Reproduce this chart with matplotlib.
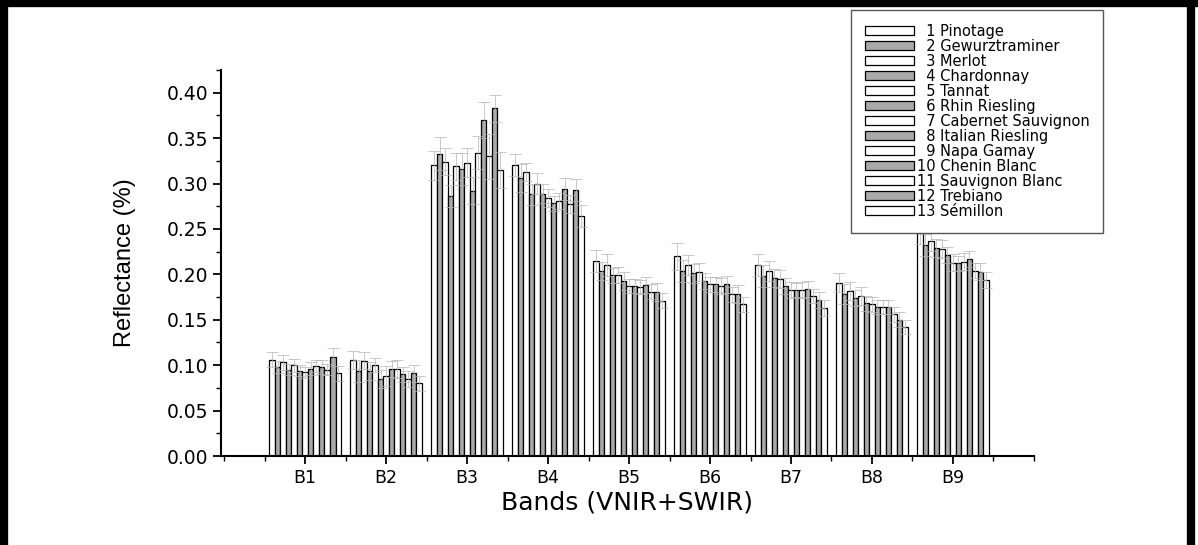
import numpy as np
import matplotlib
matplotlib.use("Agg")
import matplotlib.pyplot as plt
from matplotlib.lines import Line2D
from matplotlib.patches import Patch
from matplotlib.ticker import MultipleLocator, FormatStrFormatter

plt.rcParams['font.family'] = ['DejaVu Sans']

bands = ['B1', 'B2', 'B3', 'B4', 'B5', 'B6', 'B7', 'B8', 'B9']
varieties = ['1 Pinotage', '2 Gewurztraminer', '3 Merlot', '4 Chardonnay', '5 Tannat',
             '6 Rhin Riesling', '7 Cabernet Sauvignon', '8 Italian Riesling', '9 Napa Gamay',
             '10 Chenin Blanc', '11 Sauvignon Blanc', '12 Trebiano', '13 Sémillon']

# reflectance per band (rows) and variety (columns)
refl = np.array([
    [0.106, 0.098, 0.103, 0.095, 0.100, 0.094, 0.092, 0.096, 0.099, 0.098, 0.095, 0.109, 0.091],
    [0.106, 0.094, 0.105, 0.094, 0.100, 0.085, 0.088, 0.096, 0.096, 0.090, 0.085, 0.091, 0.080],
    [0.320, 0.333, 0.324, 0.286, 0.319, 0.316, 0.323, 0.292, 0.334, 0.370, 0.330, 0.383, 0.315],
    [0.320, 0.306, 0.313, 0.288, 0.300, 0.289, 0.284, 0.278, 0.281, 0.294, 0.277, 0.293, 0.264],
    [0.215, 0.204, 0.210, 0.199, 0.199, 0.193, 0.187, 0.187, 0.186, 0.188, 0.181, 0.181, 0.171],
    [0.220, 0.204, 0.210, 0.201, 0.203, 0.193, 0.189, 0.189, 0.187, 0.189, 0.178, 0.178, 0.167],
    [0.210, 0.198, 0.204, 0.196, 0.195, 0.187, 0.183, 0.183, 0.183, 0.184, 0.176, 0.172, 0.163],
    [0.191, 0.178, 0.182, 0.174, 0.176, 0.168, 0.167, 0.164, 0.164, 0.164, 0.156, 0.150, 0.142],
    [0.248, 0.232, 0.237, 0.229, 0.228, 0.221, 0.213, 0.212, 0.214, 0.217, 0.204, 0.203, 0.194],
])

# standard deviations (error bars)
err = np.array([
    [0.008, 0.007, 0.008, 0.006, 0.007, 0.006, 0.006, 0.007, 0.007, 0.008, 0.006, 0.010, 0.008],
    [0.010, 0.012, 0.009, 0.010, 0.008, 0.010, 0.011, 0.009, 0.010, 0.008, 0.009, 0.009, 0.008],
    [0.016, 0.018, 0.015, 0.012, 0.015, 0.018, 0.016, 0.015, 0.018, 0.020, 0.025, 0.015, 0.020],
    [0.012, 0.015, 0.010, 0.012, 0.012, 0.010, 0.010, 0.008, 0.009, 0.012, 0.010, 0.012, 0.012],
    [0.012, 0.010, 0.012, 0.008, 0.009, 0.010, 0.008, 0.008, 0.008, 0.009, 0.008, 0.010, 0.008],
    [0.015, 0.012, 0.011, 0.010, 0.010, 0.009, 0.008, 0.008, 0.009, 0.009, 0.008, 0.010, 0.008],
    [0.012, 0.012, 0.011, 0.010, 0.010, 0.009, 0.009, 0.008, 0.009, 0.009, 0.008, 0.009, 0.009],
    [0.010, 0.011, 0.010, 0.009, 0.010, 0.008, 0.008, 0.008, 0.008, 0.008, 0.008, 0.008, 0.008],
    [0.015, 0.012, 0.011, 0.010, 0.010, 0.009, 0.009, 0.008, 0.009, 0.009, 0.008, 0.009, 0.009],
])

fig = plt.figure(figsize=(11.98, 5.45), dpi=100)
ax = fig.add_axes([0.1845, 0.1633, 0.6785, 0.7083])

x = np.arange(1, len(bands) + 1)
n = len(varieties)
w = 0.068
for j in range(n):
    pos = x + (j - (n - 1) / 2) * w
    fc = 'white' if j % 2 == 0 else '#a9a9a9'
    ax.bar(pos, refl[:, j], width=w, color=fc, edgecolor='black', linewidth=0.9,
           label=varieties[j], zorder=2)
    ax.errorbar(pos, refl[:, j], yerr=err[:, j], fmt='none', ecolor='#b4b4b4',
                elinewidth=0.5, capsize=4, capthick=0.5, zorder=3)

ax.set_xlim(-0.04, 10.0)
ax.set_ylim(0, 0.425)
ax.set_xticks(x)
ax.set_xticklabels(bands)
ax.xaxis.set_minor_locator(MultipleLocator(0.5))
ax.yaxis.set_major_locator(MultipleLocator(0.05))
ax.yaxis.set_minor_locator(MultipleLocator(0.025))
ax.yaxis.set_major_formatter(FormatStrFormatter('%.2f'))
ax.spines['top'].set_visible(False)
ax.spines['right'].set_visible(False)
ax.spines['left'].set_linewidth(1.5)
ax.spines['bottom'].set_linewidth(1.5)
ax.tick_params(axis='both', which='major', direction='out', length=6, width=1.3)
ax.tick_params(axis='y', which='major', labelsize=13.5, pad=3)
ax.tick_params(axis='x', which='major', labelsize=12.5, pad=3)
ax.tick_params(axis='both', which='minor', direction='out', length=3.5, width=1.0)
ax.set_xlabel('Bands (VNIR+SWIR)', fontsize=18, labelpad=3)
ax.set_ylabel('Reflectance (%)', fontsize=17, labelpad=22,
              family=['Liberation Sans Narrow', 'Liberation Sans'])

handles = [Patch(facecolor='white' if j % 2 == 0 else '#a9a9a9', edgecolor='black', linewidth=0.9)
           for j in range(n)]
labels = [('\u2007' + v) if len(v.split()[0]) == 1 else v for v in varieties]
leg = fig.legend(handles, labels, loc='upper left', bbox_to_anchor=(851 / 1198, 1 - 10 / 545),
                 fontsize=10.5, handlelength=3.4, handleheight=0.55, handletextpad=0.15,
                 labelspacing=0.0, borderpad=0.95, borderaxespad=0, fancybox=False, framealpha=1)
leg.get_frame().set_edgecolor('#555555')
leg.get_frame().set_linewidth(1.0)

# thick page border
for xs, ys in [([0.003, 0.003], [0, 1]), ([0, 1], [0.995, 0.995]), ([0.994, 0.994], [0, 1])]:
    fig.add_artist(Line2D(xs, ys, color='black', linewidth=6, transform=fig.transFigure))

fig.savefig('out.png', dpi=100)
